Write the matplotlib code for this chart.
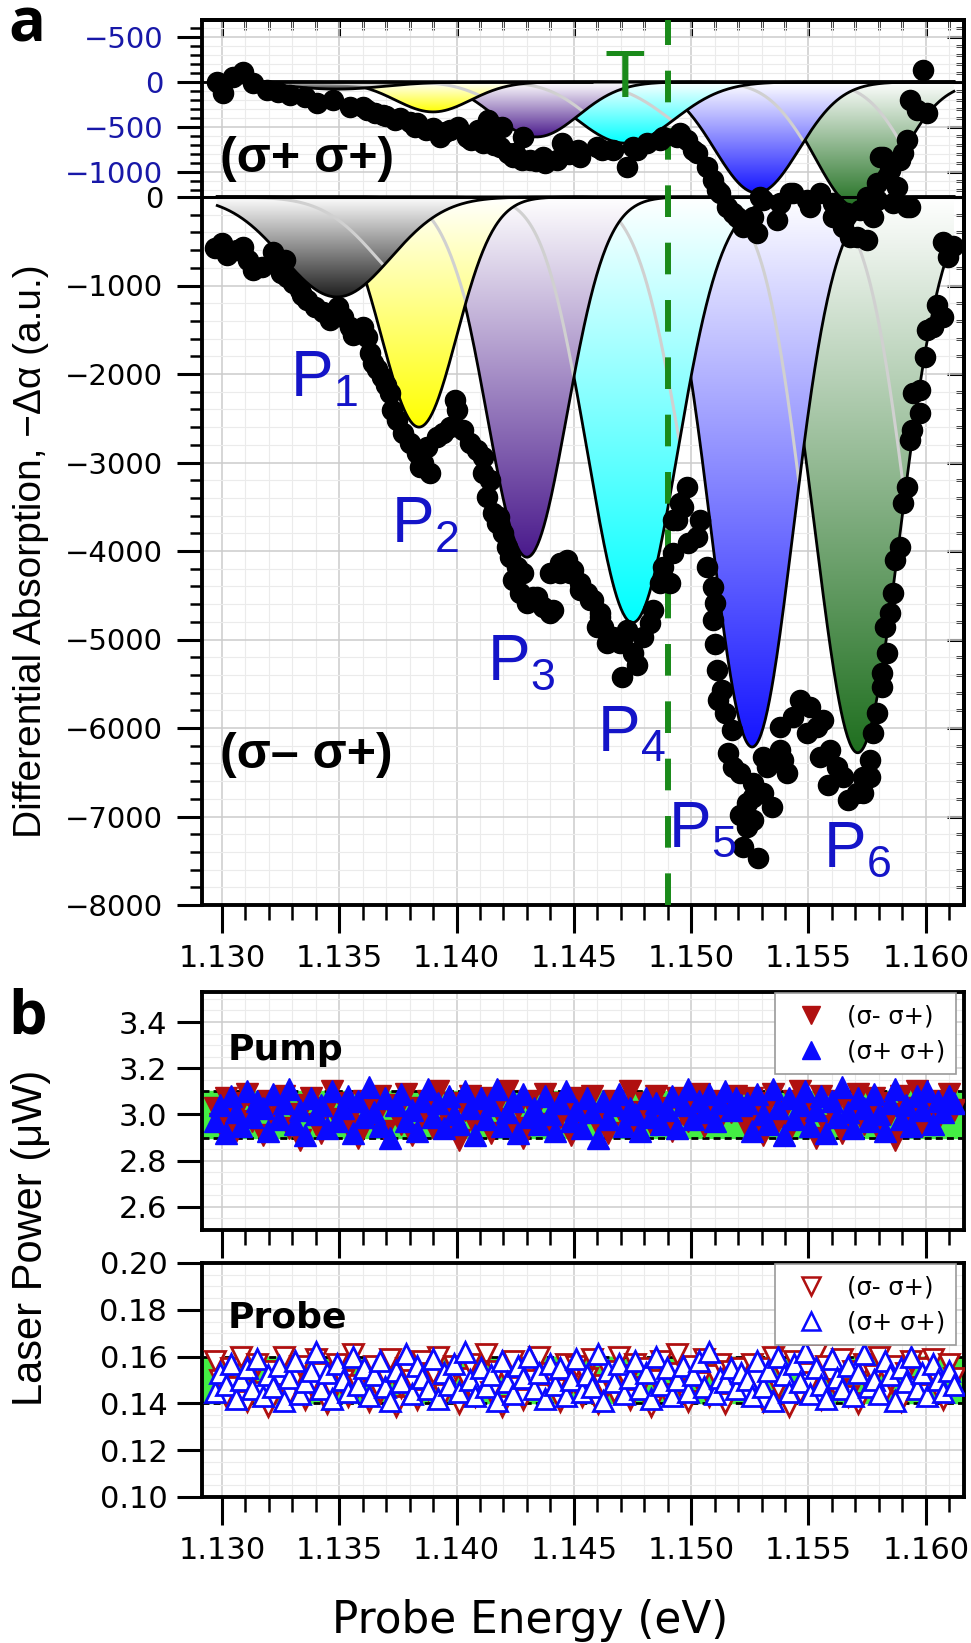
import numpy as np
import matplotlib
matplotlib.use("Agg")
import matplotlib.pyplot as plt
from matplotlib.colors import LinearSegmentedColormap
from matplotlib.lines import Line2D
from matplotlib.ticker import FixedLocator, MultipleLocator, FormatStrFormatter

plt.rcParams['font.family'] = ['Liberation Sans', 'DejaVu Sans']
plt.rcParams['mathtext.default'] = 'regular'
WIDE = ['DejaVu Sans']   # the tick text in the figure is set wide

# ---- panel a: (sigma- sigma+) differential absorption, main trace ----
abs_x = [1.12970, 1.13000, 1.13021, 1.13064, 1.13090, 1.13111, 1.13132, 1.13171, 1.13217, 1.13234,
         1.13269, 1.13277, 1.13303, 1.13333, 1.13362, 1.13396, 1.13431, 1.13460, 1.13495, 1.13516,
         1.13546, 1.13576, 1.13601, 1.13618, 1.13631, 1.13644, 1.13682, 1.13716, 1.13725, 1.13746,
         1.13772, 1.13801, 1.13831, 1.13844, 1.13857, 1.13874, 1.13887, 1.13917, 1.13942, 1.13972,
         1.13993, 1.14002, 1.14027, 1.14057, 1.14087, 1.14113, 1.14113, 1.14142, 1.14130, 1.14155,
         1.14172, 1.14198, 1.14215, 1.14228, 1.14258, 1.14270, 1.14283, 1.14300, 1.14343, 1.14368,
         1.14398, 1.14398, 1.14441, 1.14471, 1.14496, 1.14526, 1.14556, 1.14582, 1.14599, 1.14611,
         1.14624, 1.14641, 1.14654, 1.14667, 1.14697, 1.14705, 1.14709, 1.14726, 1.14752, 1.14769,
         1.14795, 1.14825, 1.14837, 1.14867, 1.14880, 1.14910, 1.14923, 1.14923, 1.14940, 1.14952,
         1.14965, 1.14982, 1.14987, 1.15025, 1.15038, 1.15068, 1.15093, 1.15102, 1.15093, 1.15110,
         1.15132, 1.15114, 1.15144, 1.15174, 1.15157, 1.15178, 1.15208, 1.15238, 1.15208, 1.15238,
         1.15264, 1.15221, 1.15285, 1.15264, 1.15264, 1.15306, 1.15345, 1.15306, 1.15323, 1.15379,
         1.15392, 1.15409, 1.15379, 1.15434, 1.15464, 1.15507, 1.15494, 1.15536, 1.15562, 1.15549,
         1.15592, 1.15583, 1.15622, 1.15647, 1.15669, 1.15707, 1.15733, 1.15733, 1.15762, 1.15762,
         1.15775, 1.15792, 1.15814, 1.15814, 1.15835, 1.15826, 1.15848, 1.15860, 1.15869, 1.15890,
         1.15903, 1.15920, 1.15933, 1.15941, 1.15976, 1.15946, 1.15976, 1.15997, 1.16005, 1.16031,
         1.16074, 1.16048, 1.16095, 1.16074, 1.16116,
         1.14241, 1.14326, 1.14411, 1.14441, 1.14484, 1.14526, 1.14569, 1.14611, 1.15102, 1.13250,
         1.13340, 1.13560, 1.13660, 1.13700, 1.14180]
abs_y = [-576, -520, -655, -599, -565, -712, -825, -791, -622, -746,
         -712, -904, -972, -1051, -1164, -1243, -1300, -1390, -1243, -1356,
         -1469, -1503, -1469, -1582, -1763, -1876, -2034, -2215, -2407, -2520,
         -2667, -2780, -2893, -3051, -3006, -2825, -3119, -2712, -2667, -2599,
         -2294, -2407, -2633, -2780, -2859, -2938, -3119, -3198, -3390, -3571,
         -3684, -3797, -3955, -4068, -4181, -4475, -4249, -4588, -4520, -4633,
         -4249, -4701, -4249, -4102, -4215, -4362, -4475, -4554, -4859, -4701,
         -4859, -5040, -4972, -4972, -5040, -5424, -4972, -4893, -5153, -5288,
         -4972, -4814, -4667, -4362, -4181, -4362, -4023, -3650, -3650, -3458,
         -3503, -3277, -3910, -3842, -3650, -4181, -4407, -4588, -4780, -5345,
         -5571, -5684, -5831, -6023, -6283, -6441, -6509, -6848, -6983, -7119,
         -7040, -7345, -7469, -6622, -6780, -6735, -6893, -6328, -6441, -6249,
         -6362, -6509, -5989, -5876, -5684, -5763, -6057, -5989, -5910, -6328,
         -6249, -6644, -6441, -6554, -6814, -6735, -6735, -6554, -6362, -6554,
         -6057, -5831, -5537, -5379, -5153, -4859, -4701, -4475, -4102, -3955,
         -3458, -3277, -2746, -2633, -2441, -2215, -2181, -1808, -1503, -1469,
         -1356, -1220, -678, -509, -554,
         -4328, -4520, -4667, -4136, -4249, -4441, -4554, -4746, -5050, -860,
         -1110, -1560, -1940, -2120, -3620]

# ---- panel a: (sigma+ sigma+) trace, in its own (inset) units ----
pp_x = [1.12979, 1.13004, 1.13047, 1.13090, 1.13132, 1.13192, 1.13239, 1.13290, 1.13354, 1.13405,
        1.13473, 1.13546, 1.13618, 1.13652, 1.13686, 1.13738, 1.13759, 1.13823, 1.13831, 1.13900,
        1.13929, 1.13972, 1.14006, 1.14044, 1.14091, 1.14113, 1.14134, 1.14155, 1.14185, 1.14194,
        1.14241, 1.14249, 1.14279, 1.14283, 1.14313, 1.14368, 1.14377, 1.14428, 1.14449, 1.14518,
        1.14526, 1.14599, 1.14620, 1.14667, 1.14726, 1.14752, 1.14769, 1.14812, 1.14867, 1.14880,
        1.14940, 1.14952, 1.14982, 1.15008, 1.15025, 1.15068, 1.15093, 1.15110, 1.15123, 1.15153,
        1.15178, 1.15195, 1.15221, 1.15238, 1.15264, 1.15281, 1.15293, 1.15306, 1.15366, 1.15379,
        1.15421, 1.15434, 1.15494, 1.15507, 1.15549, 1.15605, 1.15605, 1.15647, 1.15664, 1.15677,
        1.15707, 1.15720, 1.15750, 1.15750, 1.15775, 1.15792, 1.15792, 1.15805, 1.15818, 1.15835,
        1.15848, 1.15860, 1.15878, 1.15890, 1.15903, 1.15920, 1.15920, 1.15933, 1.15933, 1.15963,
        1.15988, 1.16005,
        1.13600, 1.13700, 1.13800, 1.13870, 1.13950, 1.14060, 1.14160, 1.14220, 1.14340, 1.14480]
pp_y = [0, -122, 56, 111, -11, -89, -111, -144, -167, -233,
        -200, -278, -311, -344, -367, -422, -400, -500, -456, -511,
        -611, -533, -500, -611, -533, -678, -422, -567, -722, -500,
        -833, -789, -867, -611, -867, -833, -900, -867, -678, -756,
        -833, -722, -756, -756, -944, -722, -756, -678, -644, -611,
        -611, -567, -644, -756, -789, -944, -1089, -1200, -1233, -1389,
        -1456, -1500, -1611, -1567, -1500, -1678, -1278, -1311, -1533, -1344,
        -1233, -1233, -1311, -1389, -1233, -1344, -1500, -1611, -1456, -1722,
        -1722, -1422, -1756, -1278, -1500, -1311, -1122, -833, -833, -1056,
        -978, -1344, -1167, -867, -789, -644, -1389, -200, -1389, -311,
        133, -344,
        -280, -380, -440, -530, -560, -640, -700, -790, -880, -800]

# Gaussian components (centre eV, depth, width eV)
main_cen = [1.1349, 1.1384, 1.1430, 1.1475, 1.1526, 1.1571]
main_amp = [-1130, -2600, -4070, -4810, -6215, -6280]
main_sig = [0.0023, 0.0016, 0.0017, 0.0019, 0.00175, 0.0018]
inset_cen = [1.1349, 1.1390, 1.1434, 1.1472, 1.1528, 1.1571]
inset_amp = [-80, -333, -611, -680, -1233, -1400]
inset_sig = [0.0020, 0.0016, 0.0018, 0.0021, 0.0018, 0.0018]
peak_colors = ['#1e1e1e', '#ffff00', '#4a1a8c', '#00ffff', '#1414ff', '#1f6f1f']
peak_names = ['P$_1$', 'P$_2$', 'P$_3$', 'P$_4$', 'P$_5$', 'P$_6$']

# ---- panel b: laser powers over the probe scan ----
scan_start, scan_stop, scan_n = 1.1297, 1.1612, 140
pump_minus = [3.03, 2.96, 3.07, 2.99, 2.93, 3.05, 3.09, 2.97, 3.01, 2.91,
              3.06, 2.98, 3.02, 3.08, 2.94, 3.00, 2.89, 3.04, 3.07, 2.96,
              2.92, 3.03, 3.10, 2.98, 3.05, 2.95, 3.01, 2.90, 3.06, 3.02,
              2.97, 3.08, 2.93, 3.04, 3.00, 2.96, 3.09, 2.91, 3.03, 2.99,
              3.06, 2.94, 3.10, 3.01, 2.97, 3.05, 2.89, 3.02, 3.08, 2.95,
              3.00, 3.07, 2.92, 3.04, 2.98, 3.10, 2.94, 3.03, 2.90, 3.06,
              3.01, 2.96, 3.09, 2.93, 3.05, 2.99, 3.02, 2.91, 3.07, 2.97,
              3.04, 3.08, 2.95, 3.00, 2.92, 3.06, 3.03, 2.98, 3.10, 2.94,
              3.01, 3.05, 2.96, 3.08, 2.99, 3.03, 2.93, 3.07, 3.00, 2.97,
              3.04, 3.09, 2.95, 3.02, 3.06, 2.98, 3.05, 3.01, 3.08, 3.03,
              2.94, 3.07, 3.00, 2.91, 3.05, 3.09, 2.97, 3.02, 2.93, 3.06,
              3.10, 2.98, 3.03, 2.90, 3.08, 2.95, 3.01, 3.06, 2.92, 3.04,
              2.99, 3.09, 2.96, 3.02, 3.07, 2.93, 3.05, 3.00, 2.89, 3.08,
              2.97, 3.03, 3.10, 2.95, 3.01, 3.06, 2.98, 3.04, 3.09, 3.02]
pump_plus = [2.97, 3.04, 2.92, 3.08, 3.01, 2.95, 3.10, 2.99, 3.06, 3.03,
             2.93, 3.09, 2.98, 3.05, 3.11, 2.96, 3.02, 2.91, 3.07, 3.00,
             3.04, 2.94, 3.10, 2.97, 3.03, 3.08, 2.92, 3.06, 2.99, 3.12,
             3.01, 2.95, 3.07, 2.90, 3.04, 3.09, 2.97, 3.02, 2.93, 3.06,
             3.11, 2.99, 3.05, 2.94, 3.08, 3.00, 2.96, 3.10, 3.03, 2.91,
             3.07, 2.98, 3.04, 3.11, 2.95, 3.01, 3.06, 2.92, 3.09, 2.99,
             3.03, 2.96, 3.08, 3.00, 2.93, 3.05, 3.10, 2.97, 3.02, 2.94,
             3.07, 3.01, 2.90, 3.06, 2.98, 3.04, 3.09, 2.95, 3.03, 3.00,
             2.93, 3.07, 2.99, 3.05, 2.96, 3.02, 3.08, 2.94, 3.04, 3.11,
             2.98, 3.06, 3.01, 3.09, 2.97, 3.05, 3.10, 3.02, 3.07, 3.04,
             3.05, 2.93, 3.09, 3.00, 2.96, 3.11, 3.03, 2.91, 3.07, 2.98,
             3.04, 3.10, 2.95, 3.02, 3.08, 2.92, 3.06, 2.99, 3.12, 3.01,
             2.94, 3.07, 3.03, 2.97, 3.09, 3.00, 2.93, 3.05, 3.11, 2.98,
             3.04, 2.95, 3.08, 3.02, 3.10, 2.96, 3.06, 3.01, 3.08, 3.05]
probe_minus = [0.158, 0.150, 0.143, 0.155, 0.147, 0.160, 0.141, 0.152, 0.157, 0.145,
               0.139, 0.154, 0.149, 0.160, 0.144, 0.151, 0.156, 0.142, 0.148, 0.159,
               0.153, 0.140, 0.146, 0.157, 0.150, 0.143, 0.161, 0.148, 0.154, 0.141,
               0.156, 0.145, 0.152, 0.159, 0.139, 0.147, 0.155, 0.150, 0.142, 0.158,
               0.146, 0.153, 0.160, 0.144, 0.149, 0.156, 0.140, 0.151, 0.157, 0.143,
               0.148, 0.161, 0.145, 0.154, 0.139, 0.152, 0.158, 0.147, 0.142, 0.155,
               0.150, 0.160, 0.144, 0.153, 0.146, 0.141, 0.157, 0.149, 0.156, 0.143,
               0.151, 0.159, 0.140, 0.148, 0.154, 0.145, 0.160, 0.152, 0.142, 0.157,
               0.147, 0.155, 0.139, 0.150, 0.158, 0.144, 0.153, 0.161, 0.146, 0.141,
               0.156, 0.149, 0.159, 0.143, 0.152, 0.157, 0.140, 0.154, 0.148, 0.155,
               0.144, 0.157, 0.150, 0.141, 0.155, 0.160, 0.147, 0.152, 0.139, 0.158,
               0.145, 0.153, 0.149, 0.161, 0.142, 0.156, 0.151, 0.146, 0.159, 0.143,
               0.154, 0.140, 0.157, 0.148, 0.152, 0.160, 0.145, 0.150, 0.156, 0.141,
               0.153, 0.158, 0.147, 0.144, 0.155, 0.159, 0.149, 0.142, 0.157, 0.151]
probe_plus = [0.145, 0.153, 0.148, 0.157, 0.142, 0.150, 0.155, 0.146, 0.159, 0.143,
              0.152, 0.147, 0.156, 0.141, 0.151, 0.158, 0.144, 0.149, 0.154, 0.162,
              0.146, 0.153, 0.142, 0.157, 0.150, 0.145, 0.160, 0.148, 0.155, 0.143,
              0.152, 0.158, 0.147, 0.141, 0.154, 0.149, 0.161, 0.144, 0.156, 0.151,
              0.146, 0.159, 0.142, 0.153, 0.148, 0.157, 0.145, 0.162, 0.150, 0.143,
              0.155, 0.147, 0.152, 0.141, 0.158, 0.149, 0.144, 0.156, 0.151, 0.160,
              0.146, 0.153, 0.142, 0.157, 0.148, 0.155, 0.143, 0.150, 0.159, 0.145,
              0.152, 0.147, 0.161, 0.141, 0.154, 0.149, 0.157, 0.144, 0.151, 0.158,
              0.146, 0.153, 0.142, 0.160, 0.148, 0.155, 0.143, 0.150, 0.156, 0.145,
              0.152, 0.158, 0.147, 0.162, 0.144, 0.151, 0.149, 0.155, 0.146, 0.153,
              0.150, 0.143, 0.158, 0.147, 0.154, 0.141, 0.160, 0.152, 0.145, 0.157,
              0.149, 0.162, 0.144, 0.155, 0.148, 0.142, 0.159, 0.151, 0.146, 0.156,
              0.143, 0.153, 0.161, 0.147, 0.150, 0.144, 0.158, 0.152, 0.141, 0.155,
              0.149, 0.160, 0.146, 0.153, 0.143, 0.157, 0.150, 0.145, 0.154, 0.148]

RED = '#b01010'
BLUE = '#0a0aff'
P_BLUE = '#1414c8'
TICK_BLUE = '#1818a8'
T_GREEN = '#1a8a1a'
BAND = '#44ee44'

XLIM = (1.12915, 1.16163)
INSET_ZERO = 1300.0     # where the (s+ s+) zero sits on the main scale
INSET_SCALE = 1.017
SHADOW_SHIFT = 0.0040


def to_main(v):
    return INSET_ZERO + INSET_SCALE * np.asarray(v, dtype=float)


def gauss(x, c, a, s):
    return a * np.exp(-(x - c) ** 2 / (2 * s ** 2))


W, H = 971, 1643
fig = plt.figure(figsize=(W / 100, H / 100), dpi=100)


def box(l, t, r, b):
    return [l / W, 1 - b / H, (r - l) / W, (b - t) / H]


ax = fig.add_axes(box(202, 20, 964, 905))
ax_pump = fig.add_axes(box(202, 992, 964, 1230))
ax_probe = fig.add_axes(box(202, 1263, 964, 1497))

xs = np.linspace(1.1298, 1.1612, 700)
grad = np.linspace(0, 1, 256).reshape(-1, 1)


def shaded_peak(base, scale, cen, amp, sig, color, z):
    y = base + scale * gauss(xs, cen, amp, sig)
    poly = ax.fill_between(xs, base, y, facecolor='none', edgecolor='none', zorder=z)
    clip = poly.get_paths()[0]
    cmap = LinearSegmentedColormap.from_list('fade', ['white', color])
    im = ax.imshow(grad, cmap=cmap, aspect='auto', origin='upper', interpolation='bilinear',
                   extent=[xs[0], xs[-1], base + scale * amp, base], zorder=z)
    im.set_clip_path(clip, transform=ax.transData)
    sh, = ax.plot(xs, base + scale * gauss(xs, cen + SHADOW_SHIFT, amp, sig),
                  color='#d0d0d0', lw=2.2, zorder=z + 0.01)
    sh.set_clip_path(clip, transform=ax.transData)
    ax.plot(xs, y, color='black', lw=2.0, zorder=z + 0.02)


for k in range(5, -1, -1):
    shaded_peak(0.0, 1.0, main_cen[k], main_amp[k], main_sig[k], peak_colors[k], 3 - 0.1 * k)
for k in range(5, -1, -1):
    shaded_peak(INSET_ZERO, INSET_SCALE, inset_cen[k], inset_amp[k], inset_sig[k],
                peak_colors[k], 4 - 0.1 * k)

ax.axhline(0, color='black', lw=2.2, zorder=5)
ax.hlines(INSET_ZERO, XLIM[0], 1.14582, color='black', lw=2.0, zorder=5)
ax.hlines(INSET_ZERO, 1.14825, XLIM[1], color='black', lw=2.0, zorder=5)
ax.axvline(1.149, color=T_GREEN, lw=4.3, ls=(0, (5.3, 4.3)), zorder=6)

ax.plot(abs_x, abs_y, 'o', color='black', ms=14.5, zorder=7)
ax.plot(pp_x, to_main(pp_y), 'o', color='black', ms=14.5, zorder=7)

# labels inside panel a
p_pos = [(1.1329, -2260), (1.1372, -3910), (1.1413, -5458),
         (1.1460, -6271), (1.1490, -7345), (1.1556, -7571)]
for name, (px, py) in zip(peak_names, p_pos):
    ax.text(px, py, name, color=P_BLUE, fontsize=46, ha='left', va='baseline', zorder=9)
ax.text(1.14718, 1130, 'T', color=T_GREEN, fontsize=48, ha='center', va='baseline', zorder=9)
ax.text(1.12990, 283, '(σ+ σ+)', fontsize=36, weight='bold', ha='left', va='baseline', zorder=9)
ax.text(1.12990, -6452, '(σ– σ+)', fontsize=36, weight='bold', ha='left', va='baseline', zorder=9)

ax.set_xlim(*XLIM)
ax.set_ylim(-8000, 2000)

inset_major = [500, 0, -500, -1000]
main_major = list(range(0, -8001, -1000))
ypos = list(to_main(inset_major)) + main_major
ylab = ['−500', '0', '−500', '−1000'] + ['0' if v == 0 else '−%d' % -v for v in main_major]
ax.set_yticks(ypos, ylab)
for i, t in enumerate(ax.get_yticklabels()):
    t.set_family(WIDE)
    if i < 4:
        t.set_color(TICK_BLUE)
inset_minor = [v for v in range(-1200, 700, 100) if v % 500 != 0]
main_minor = [v for v in range(-8000, 1, 200) if v % 1000 != 0]
yminor = list(to_main(inset_minor)) + main_minor
ax.yaxis.set_minor_locator(FixedLocator(yminor))
ax.xaxis.set_major_locator(MultipleLocator(0.005))
ax.xaxis.set_minor_locator(MultipleLocator(0.001))
ax.xaxis.set_major_formatter(FormatStrFormatter('%.3f'))
ax.tick_params(axis='y', which='major', direction='out', length=18, width=2.2, labelsize=21, pad=10)
ax.tick_params(axis='y', which='minor', direction='out', length=9, width=1.8)
ax.tick_params(axis='x', which='major', direction='out', length=20, width=2.2, labelsize=22, pad=8)
ax.tick_params(axis='x', which='minor', direction='out', length=11, width=1.8)
for t in ax.get_xticklabels():
    t.set_family(WIDE)
ax.grid(True, which='major', color='#cccccc', lw=1.1)
ax.grid(True, which='minor', color='#ebebeb', lw=0.8)
ax.set_axisbelow(True)

sec_r = ax.secondary_yaxis('right')
sec_r.set_yticks(ypos)
sec_r.yaxis.set_minor_locator(FixedLocator(yminor))
sec_r.tick_params(which='major', direction='in', length=12, width=2.2, labelright=False)
sec_r.tick_params(which='minor', direction='in', length=6, width=1.8)
sec_t = ax.secondary_xaxis('top')
sec_t.xaxis.set_major_locator(MultipleLocator(0.005))
sec_t.xaxis.set_minor_locator(MultipleLocator(0.001))
sec_t.tick_params(which='major', direction='in', length=12, width=2.2, labeltop=False)
sec_t.tick_params(which='minor', direction='in', length=7, width=1.8)
for a_ in (ax, sec_r, sec_t):
    for s in a_.spines.values():
        s.set_linewidth(2.8)

# ---- panel b ----
energy = np.linspace(scan_start, scan_stop, scan_n)


def power_panel(a_, minus, plus, band, ylim, yt, ymin, fmt, filled, show_x):
    a_.axhspan(band[0], band[1], color=BAND, zorder=1)
    for b in band:
        a_.axhline(b, color='black', lw=2.0, ls=(0, (2.5, 1.5)), zorder=1.5)
    if filled:
        a_.plot(energy, minus, 'v', ls='none', color=RED, ms=16, zorder=3)
        a_.plot(energy, plus, '^', ls='none', color=BLUE, ms=16, zorder=4)
        hm = Line2D([], [], ls='none', marker='v', color=RED, ms=13)
        hp = Line2D([], [], ls='none', marker='^', color=BLUE, ms=13)
    else:
        a_.plot(energy, minus, 'v', ls='none', mfc='white', mec=RED, mew=2.0, ms=14, zorder=3)
        a_.plot(energy, plus, '^', ls='none', mfc='white', mec=BLUE, mew=2.0, ms=14, zorder=4)
        hm = Line2D([], [], ls='none', marker='v', mfc='white', mec=RED, mew=1.8, ms=13)
        hp = Line2D([], [], ls='none', marker='^', mfc='white', mec=BLUE, mew=1.8, ms=13)
    leg = a_.legend([hm, hp], ['(σ- σ+)', '(σ+ σ+)'], loc='upper right',
                    bbox_to_anchor=(0.99, 0.995), prop={'family': WIDE, 'size': 17.5},
                    fancybox=False, edgecolor='#9a9a9a', framealpha=1, borderaxespad=0,
                    handletextpad=0.5, labelspacing=0.45, borderpad=0.45)
    leg.get_frame().set_linewidth(1.2)
    leg.set_zorder(10)
    a_.set_xlim(*XLIM)
    a_.set_ylim(*ylim)
    a_.set_yticks(yt)
    a_.yaxis.set_major_formatter(FormatStrFormatter(fmt))
    a_.yaxis.set_minor_locator(MultipleLocator(ymin))
    a_.xaxis.set_major_locator(MultipleLocator(0.005))
    a_.xaxis.set_minor_locator(MultipleLocator(0.001))
    a_.xaxis.set_major_formatter(FormatStrFormatter('%.3f'))
    a_.tick_params(axis='y', which='major', direction='out', length=18, width=2.2, labelsize=22, pad=7)
    a_.tick_params(axis='y', which='minor', left=False)
    a_.tick_params(axis='x', which='major', direction='out', length=20, width=2.2, labelsize=22,
                   pad=8, labelbottom=show_x)
    a_.tick_params(axis='x', which='minor', direction='out', length=11, width=1.8)
    for t in a_.get_xticklabels() + a_.get_yticklabels():
        t.set_family(WIDE)
    a_.grid(True, which='major', color='#cccccc', lw=1.1)
    a_.grid(True, which='minor', color='#ebebeb', lw=0.8)
    a_.set_axisbelow(True)
    for s in a_.spines.values():
        s.set_linewidth(2.8)


power_panel(ax_pump, pump_minus, pump_plus, (2.9, 3.1), (2.5, 3.53),
            [2.6, 2.8, 3.0, 3.2, 3.4], 0.05, '%.1f', True, False)
power_panel(ax_probe, probe_minus, probe_plus, (0.14, 0.16), (0.10, 0.20),
            [0.10, 0.12, 0.14, 0.16, 0.18, 0.20], 0.005, '%.2f', False, True)

fig.text(228 / W, 1 - 1060 / H, 'Pump', fontsize=26, weight='bold', family=WIDE, va='baseline')
fig.text(228 / W, 1 - 1328 / H, 'Probe', fontsize=26, weight='bold', family=WIDE, va='baseline')

fig.text(31 / W, 1 - 838 / H, 'Differential Absorption, −Δα (a.u.)', rotation=90,
         ha='center', va='bottom', fontsize=28)
fig.text(31 / W, 1 - 1238 / H, 'Laser Power (μW)', rotation=90, ha='center', va='center', fontsize=30)
fig.text(530 / W, 1 - 1621 / H, 'Probe Energy (eV)', ha='center', va='center', fontsize=31.5,
         family=WIDE)

fig.text(8 / W, 1 - 41 / H, 'a', fontsize=44, weight='bold', family='Open Sans', va='baseline')
fig.text(8 / W, 1 - 1033 / H, 'b', fontsize=44, weight='bold', family='Open Sans', va='baseline')

fig.savefig('out.png', dpi=100)
